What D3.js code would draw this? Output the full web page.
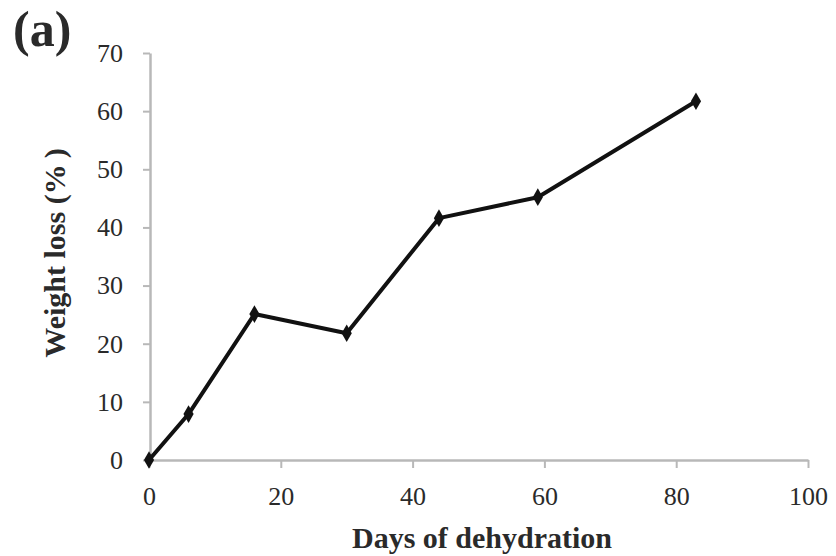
<!DOCTYPE html>
<html><head><meta charset="utf-8">
<script src="https://cdn.jsdelivr.net/npm/d3@7"></script>
<style>body{margin:0;background:#fff}svg{display:block}text{font-family:"Liberation Serif","Times New Roman",serif}</style>
</head><body><svg id="c" width="836" height="556"></svg>
<script>
const days = [0, 6, 16, 30, 44, 59, 83];
const weightLoss = [0, 7.9, 25.1, 21.8, 41.6, 45.2, 61.7];
const xTicks = [0, 20, 40, 60, 80, 100];
const yTicks = [0, 10, 20, 30, 40, 50, 60, 70];

const svg = d3.select("#c");
const x = d3.scaleLinear().domain([0, 100]).range([149, 808]);
const y = d3.scaleLinear().domain([0, 70]).range([460, 53]);
const axisColor = "#b8b8b8";

const gx = svg.append("g").attr("transform", "translate(0,460)")
  .call(d3.axisBottom(x).tickValues(xTicks).tickSize(8).tickPadding(19).tickSizeOuter(0));
const gy = svg.append("g").attr("transform", "translate(150,0)")
  .call(d3.axisLeft(y).tickValues(yTicks).tickSize(7).tickPadding(20).tickSizeOuter(0));
[gx, gy].forEach(g => {
  g.select(".domain").attr("stroke", axisColor).attr("stroke-width", 2.5);
  g.selectAll(".tick line").attr("stroke", axisColor).attr("stroke-width", 2);
  g.selectAll(".tick text").attr("fill", "#2a2a2a").attr("font-size", 26)
    .attr("font-family", "Liberation Serif");
});

const data = days.map((d, i) => ({ d, v: weightLoss[i] }));
svg.append("path").datum(data)
  .attr("fill", "none").attr("stroke", "#111").attr("stroke-width", 4)
  .attr("stroke-linejoin", "round")
  .attr("d", d3.line().x(p => x(p.d)).y(p => y(p.v)));
svg.selectAll(".pt").data(data).enter().append("path")
  .attr("class", "pt")
  .attr("transform", p => `translate(${x(p.d)},${y(p.v)})`)
  .attr("d", d3.symbol().type(d3.symbolDiamond).size(90))
  .attr("fill", "#111");

svg.append("text").attr("x", 482).attr("y", 548).attr("text-anchor", "middle")
  .attr("font-size", 30).attr("font-weight", "bold").attr("fill", "#2a2a2a")
  .text("Days of dehydration");
svg.append("text").attr("transform", "translate(65,253) rotate(-90)")
  .attr("text-anchor", "middle")
  .attr("font-size", 30).attr("font-weight", "bold").attr("fill", "#2a2a2a")
  .text("Weight loss (%\u2009)");
svg.append("text").attr("x", 13).attr("y", 46)
  .attr("font-size", 50).attr("font-weight", "bold").attr("fill", "#2a2a2a")
  .text("(a)");
</script></body></html>
